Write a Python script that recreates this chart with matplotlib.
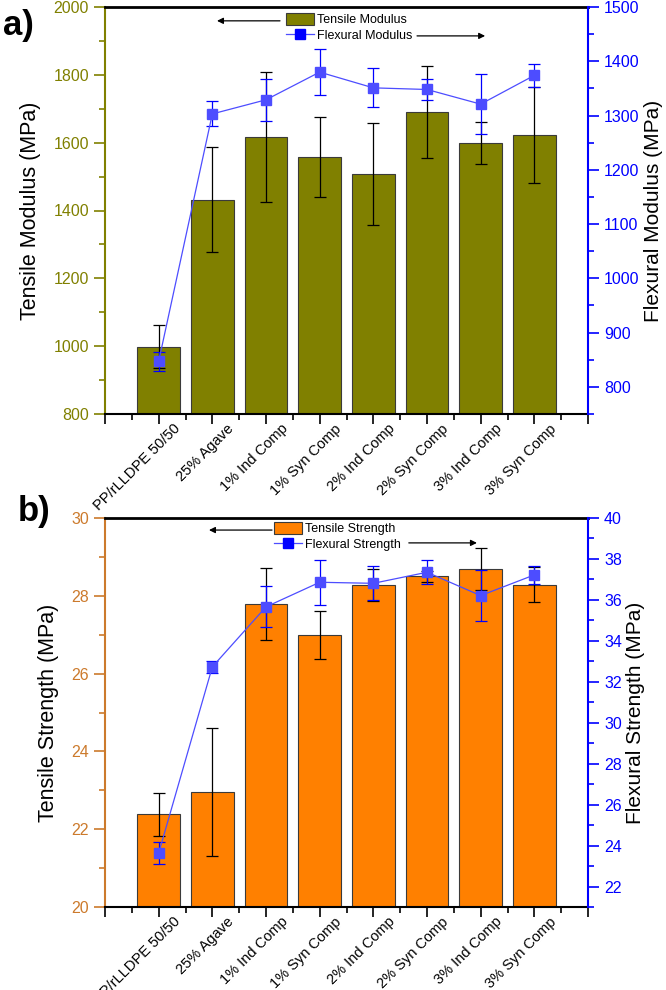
import numpy as np
import matplotlib
matplotlib.use('Agg')
import matplotlib.pyplot as plt
import matplotlib.transforms as mtrans
from matplotlib.patches import Patch
from matplotlib.lines import Line2D
from matplotlib.ticker import MultipleLocator, FixedLocator, FixedFormatter

plt.rcParams['font.family'] = ['Liberation Sans', 'DejaVu Sans']

samples = ['PP/rLLDPE 50/50', '25% Agave', '1% Ind Comp', '1% Syn Comp',
           '2% Ind Comp', '2% Syn Comp', '3% Ind Comp', '3% Syn Comp']

# panel a) moduli (MPa)
tensile_mod = [998, 1432, 1617, 1558, 1507, 1690, 1600, 1623]
tensile_mod_err = [63, 155, 191, 117, 151, 135, 62, 142]
flex_mod = [847, 1303, 1329, 1380, 1351, 1348, 1321, 1374]
flex_mod_err = [18, 23, 39, 43, 36, 20, 55, 21]

# panel b) strengths (MPa)
tensile_str = [22.38, 22.95, 27.79, 27.0, 28.28, 28.5, 28.68, 28.28]
tensile_str_err = [0.56, 1.65, 0.92, 0.62, 0.42, 0.15, 0.54, 0.45]
flex_str = [23.63, 32.73, 35.66, 36.86, 36.81, 37.35, 36.21, 37.22]
flex_str_err = [0.55, 0.3, 1.0, 1.1, 0.83, 0.58, 1.25, 0.45]

OLIVE = '#808000'
ORANGE = '#ff8000'
BROWN = '#cc7a2c'
BLUE = '#0000ff'

fig = plt.figure(figsize=(6.66, 9.9), dpi=100)
W, H = 666, 990


def px_axes(l, t, r, b):
    return fig.add_axes([l / W, 1 - b / H, (r - l) / W, (b - t) / H])


def draw_panel(ax, bars, bars_err, bar_color, left_color, left_lim, left_major,
               left_minor, left_label, line, line_err, right_lim, right_major,
               right_minor, right_label, leg_labels, leg_xy, arr_l, arr_r):
    x = np.arange(len(samples))
    ax.bar(x, bars, width=0.8, color=bar_color, edgecolor='#3a3a3a', linewidth=0.8, zorder=2)
    ax.errorbar(x, bars, yerr=bars_err, fmt='none', ecolor='black', elinewidth=0.9,
                capsize=4, capthick=0.9, zorder=3)
    ax.set_xlim(-1, 8)
    ax.set_ylim(*left_lim)
    ax.yaxis.set_major_locator(MultipleLocator(left_major))
    ax.yaxis.set_minor_locator(MultipleLocator(left_minor))
    ax.xaxis.set_major_locator(FixedLocator(np.arange(-1, 9)))
    ax.xaxis.set_major_formatter(FixedFormatter([''] + samples + ['']))
    ax.xaxis.set_minor_locator(FixedLocator(np.arange(-0.5, 8, 1)))
    ax.tick_params(axis='y', which='major', colors=left_color, labelsize=11.5, length=8, width=1.2)
    ax.tick_params(axis='y', which='minor', colors=left_color, length=4, width=1.2)
    ax.tick_params(axis='x', which='major', length=7, width=1.2, labelsize=10.5, pad=2)
    ax.tick_params(axis='x', which='minor', length=4, width=1.2)
    offset = mtrans.ScaledTranslation(14 / 72, 0, fig.dpi_scale_trans)
    for lab in ax.get_xticklabels():
        lab.set_rotation(45)
        lab.set_ha('right')
        lab.set_va('center')
        lab.set_rotation_mode('anchor')
        lab.set_transform(lab.get_transform() + offset)
    ax.set_ylabel(left_label, fontsize=15.5, labelpad=9)
    ax.spines['left'].set_color(left_color)
    ax.spines['left'].set_linewidth(1.5)
    ax.spines['top'].set_linewidth(2)
    ax.spines['bottom'].set_linewidth(1.5)
    ax.spines['right'].set_visible(False)

    ax2 = ax.twinx()
    ax2.errorbar(x, line, yerr=line_err, fmt='s-', color=BLUE, ecolor=BLUE, lw=0.9,
                 markersize=7, elinewidth=0.9, capsize=4, capthick=0.9, zorder=4)
    ax2.get_lines()[0].set_color('#4d4dff')
    ax2.set_ylim(*right_lim)
    ax2.yaxis.set_major_locator(MultipleLocator(right_major))
    ax2.yaxis.set_minor_locator(MultipleLocator(right_minor))
    ax2.tick_params(axis='y', which='major', colors=BLUE, labelsize=11.5, length=8, width=1.2)
    ax2.tick_params(axis='y', which='minor', colors=BLUE, length=4, width=1.2)
    ax2.spines['right'].set_color(BLUE)
    ax2.spines['right'].set_linewidth(1.5)
    ax2.spines['left'].set_visible(False)
    ax2.spines['top'].set_visible(False)
    ax2.spines['bottom'].set_visible(False)
    ax2.set_ylabel(right_label, fontsize=15, labelpad=3)

    handles = [Patch(facecolor=bar_color, edgecolor='#3a3a3a', linewidth=0.8),
               Line2D([], [], color='#4d4dff', marker='s', markersize=7,
                      markerfacecolor=BLUE, markeredgecolor=BLUE, lw=0.9)]
    ax2.legend(handles, leg_labels, loc='upper left', bbox_to_anchor=leg_xy,
               frameon=False, fontsize=9, borderpad=0, borderaxespad=0,
               handlelength=2.2, handleheight=1.1, handletextpad=0.3, labelspacing=0.2)
    for a, b in (arr_l, arr_r):
        ax2.annotate('', xy=b, xytext=a, xycoords='axes fraction', textcoords='axes fraction',
                     arrowprops=dict(arrowstyle='-|>', color='black', lw=0.9,
                                     mutation_scale=9, shrinkA=0, shrinkB=0))
    return ax2


ax_a = px_axes(105, 7, 588, 414)
draw_panel(ax_a, tensile_mod, tensile_mod_err, OLIVE, OLIVE, (800, 2000), 200, 100,
           'Tensile Modulus (MPa)', flex_mod, flex_mod_err, (750, 1500), 100, 50,
           'Flexural Modulus (MPa)', ['Tensile Modulus', 'Flexural Modulus'],
           (0.375, 0.986), ((0.3623, 0.966), (0.2319, 0.966)),
           ((0.646, 0.929), (0.787, 0.929)))

ax_b = px_axes(105, 518, 588, 907)
draw_panel(ax_b, tensile_str, tensile_str_err, ORANGE, BROWN, (20, 30), 2, 1,
           'Tensile Strength (MPa)', flex_str, flex_str_err, (21, 40), 2, 1,
           'Flexural Strength (MPa)', ['Tensile Strength', 'Flexural Strength'],
           (0.35, 0.99), ((0.3458, 0.969), (0.2153, 0.969)),
           ((0.629, 0.936), (0.770, 0.936)))

fig.text(3 / W, 1 - 25 / H, 'a)', fontsize=25, fontweight='bold', va='center', ha='left')
fig.text(18 / W, 1 - 512 / H, 'b)', fontsize=25, fontweight='bold', va='center', ha='left')

fig.savefig('out.png', dpi=100)
